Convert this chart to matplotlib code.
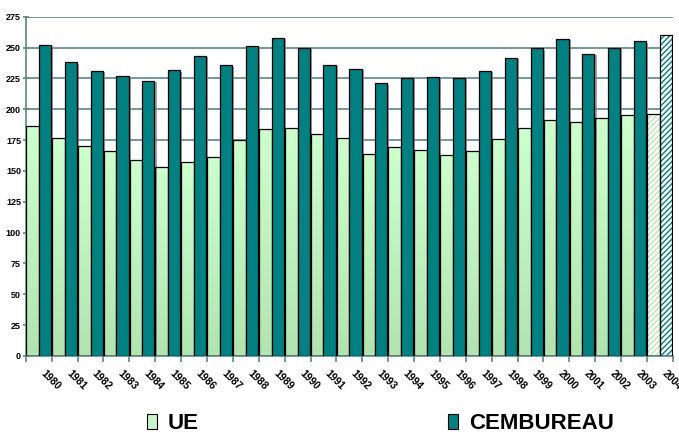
import numpy as np
import matplotlib
matplotlib.use("Agg")
import matplotlib.pyplot as plt
import matplotlib.patheffects as pe
import matplotlib.transforms as mtransforms
from matplotlib.patches import Patch

plt.rcParams['font.family'] = ['Liberation Sans', 'DejaVu Sans']

years = [str(y) for y in range(1980, 2005)]
ue = [186, 177, 170, 166, 159, 153.5, 157, 161, 175, 184, 185, 180, 177,
      164, 169.5, 167, 163, 166.5, 176, 185, 191, 190, 192.5, 195.5, 196.5]
cembureau = [252, 238, 231, 227, 223, 231.5, 243.5, 235.5, 251, 258, 250, 236, 233,
             221, 225.5, 226.5, 225.5, 231, 241.5, 249.5, 257, 245, 250, 255, 260]
y_ticks = list(range(0, 276, 25))

GRID = '#5b8787'
TEAL = '#008080'
UE_TOP = np.array([206, 255, 206]) / 255
UE_BOT = np.array([178, 228, 178]) / 255

fig = plt.figure(figsize=(6.79, 4.34), dpi=100)
ax = fig.add_axes([0.038, 0.180, 0.953, 0.7815])

n = len(years)
x = np.arange(n)
shadow = [pe.SimplePatchShadow(offset=(1.5, -1), shadow_rgbFace='#888888', alpha=0.8), pe.Normal()]

# gradient image for the UE bars
grad = np.linspace(0, 1, 256)[:, None]
grad_img = UE_BOT[None, None, :] * (1 - grad[..., None]) + UE_TOP[None, None, :] * grad[..., None]
grad_img = np.repeat(grad_img, 2, axis=1)

for i in range(n):
    last = (i == n - 1)
    # UE
    if not last:
        b = ax.bar(x[i] - 0.49, ue[i], width=0.49, align='edge', facecolor='none',
                   edgecolor='black', linewidth=0.9, zorder=3)[0]
        im = ax.imshow(grad_img, extent=(x[i] - 0.49, x[i], 0, ue[i]), origin='lower',
                       aspect='auto', zorder=2.5)
        im.set_clip_path(b)
        sh = ax.bar(x[i] - 0.49, ue[i], width=0.49, align='edge', facecolor='white',
                    edgecolor='none', zorder=2.4)[0]
        sh.set_path_effects(shadow)
    else:
        ax.bar(x[i] - 0.49, ue[i], width=0.49, align='edge', facecolor='white',
               edgecolor='#b8e8b8', hatch='//////', linewidth=0, zorder=2.5)
        ax.bar(x[i] - 0.49, ue[i], width=0.49, align='edge', facecolor='none',
               edgecolor='black', linewidth=0.9, zorder=3)
    # CEMBUREAU
    if not last:
        b = ax.bar(x[i], cembureau[i], width=0.47, align='edge', facecolor=TEAL,
                   edgecolor='black', linewidth=0.9, zorder=3)[0]
        b.set_path_effects(shadow)
    else:
        ax.bar(x[i], cembureau[i], width=0.47, align='edge', facecolor='white',
               edgecolor=TEAL, hatch='//////', linewidth=0, zorder=2.5)
        ax.bar(x[i], cembureau[i], width=0.47, align='edge', facecolor='none',
               edgecolor='black', linewidth=0.9, zorder=3)

ax.set_xlim(-0.5, n - 0.5)
ax.set_ylim(0, 275)
ax.set_yticks(y_ticks)
ax.set_yticklabels([str(v) for v in y_ticks], fontsize=6.5, fontweight='bold')
ax.yaxis.grid(True, color=GRID, linewidth=1.2, zorder=0)
ax.set_axisbelow(True)

ax.set_xticks(x)
ax.set_xticklabels(years, rotation=-45, ha='left', va='top', rotation_mode='anchor',
                   fontsize=7.5, fontweight='bold')
ax.set_xticks(np.arange(-0.5, n, 1), minor=True)
ax.tick_params(axis='x', which='major', length=0, pad=9)
ax.tick_params(axis='x', which='minor', length=4, color=GRID, width=1.2)
ax.tick_params(axis='y', direction='inout', length=5, color=GRID, width=1.2, pad=1)
shift = mtransforms.ScaledTranslation(7 / 100, 0, fig.dpi_scale_trans)
for lab in ax.get_xticklabels():
    lab.set_transform(lab.get_transform() + shift)

for s in ['top', 'right']:
    ax.spines[s].set_visible(False)
for s in ['left', 'bottom']:
    ax.spines[s].set_color(GRID)
    ax.spines[s].set_linewidth(1.2)

handles = [Patch(facecolor='#c8f4c8', edgecolor='black', linewidth=0.8, label='UE'),
           Patch(facecolor=TEAL, edgecolor='black', linewidth=0.8, label='CEMBUREAU')]
leg = fig.legend(handles=handles, loc='lower left', bbox_to_anchor=(0.193, -0.036), ncol=2,
                 frameon=False, prop={'size': 16, 'weight': 'bold'},
                 handlelength=0.45, handleheight=0.65, handletextpad=0.5, columnspacing=11.2,
                 borderpad=0.2)

fig.savefig('out.png', dpi=100)
